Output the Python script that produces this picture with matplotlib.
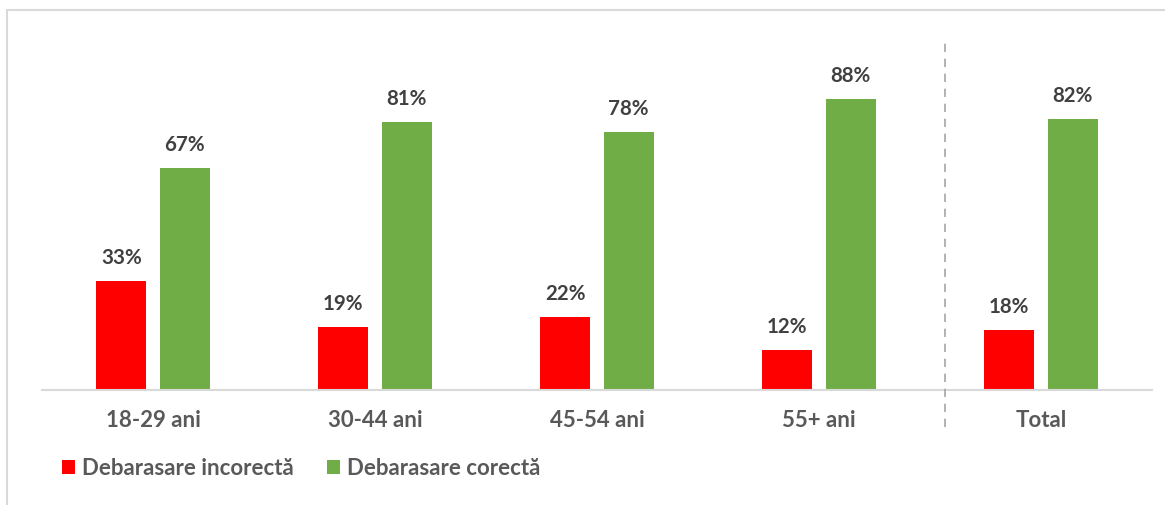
import matplotlib.pyplot as plt
import numpy as np
from matplotlib.patches import Rectangle
from matplotlib.lines import Line2D

categories = ["18-29 ani", "30-44 ani", "45-54 ani", "55+ ani", "Total"]
incorect = [33, 19, 22, 12, 18]
corect = [67, 81, 78, 88, 82]
series_names = ["Debarasare incorectă", "Debarasare corectă"]

RED = "#ff0000"
GREEN = "#70ad47"
plt.rcParams['font.family'] = ['Lato', 'DejaVu Sans']

W, H = 1165, 506
fig = plt.figure(figsize=(W / 100, H / 100), dpi=100)

# chart frame (cut off at right and bottom as in the source)
fig.patches.append(Rectangle((7 / W, -0.1), 1.2, (H - 11) / H + 0.1,
                             transform=fig.transFigure, fill=False,
                             edgecolor="#d9d9d9", linewidth=1.5))

ax = fig.add_axes([42 / W, (H - 391) / H, (1152 - 42) / W, 330.7 / H])
x = np.arange(len(categories))
bw = 0.225
off = 0.143
b1 = ax.bar(x - off, incorect, bw, color=RED, label=series_names[0])
b2 = ax.bar(x + off, corect, bw, color=GREEN, label=series_names[1])

for bars, vals in [(b1, incorect), (b2, corect)]:
    for b, v in zip(bars, vals):
        ax.text(b.get_x() + b.get_width() / 2, v + 7.3, f"{v}%",
                ha="center", va="center", fontsize=14.8, fontweight="bold",
                color="#404040")

ax.set_xlim(-0.5, len(categories) - 0.5)
ax.set_ylim(0, 100)
ax.set_yticks([])
ax.set_xticks(x)
ax.set_xticklabels(categories, fontsize=16, fontweight="bold", color="#595959")
ax.tick_params(axis="x", length=0, pad=14)
for s in ["top", "right", "left"]:
    ax.spines[s].set_visible(False)
ax.spines["bottom"].set_color("#d9d9d9")
ax.spines["bottom"].set_linewidth(1.5)

# dashed separator before Total
fig.add_artist(Line2D([945 / W, 945 / W], [(H - 428) / H, (H - 42) / H],
                      transform=fig.transFigure, color="#a6a6a6",
                      linestyle=(0, (5, 4)), linewidth=1.2))

leg = fig.legend(handles=[b1, b2], loc="center left",
                 bbox_to_anchor=(46 / W, (H - 469) / H), ncol=2, frameon=False,
                 handlelength=0.6, handleheight=0.6, handletextpad=0.3,
                 columnspacing=1.5, borderpad=0.2,
                 prop={"size": 16, "weight": "bold"})
for t in leg.get_texts():
    t.set_color("#595959")

fig.savefig("out.png", dpi=100)
